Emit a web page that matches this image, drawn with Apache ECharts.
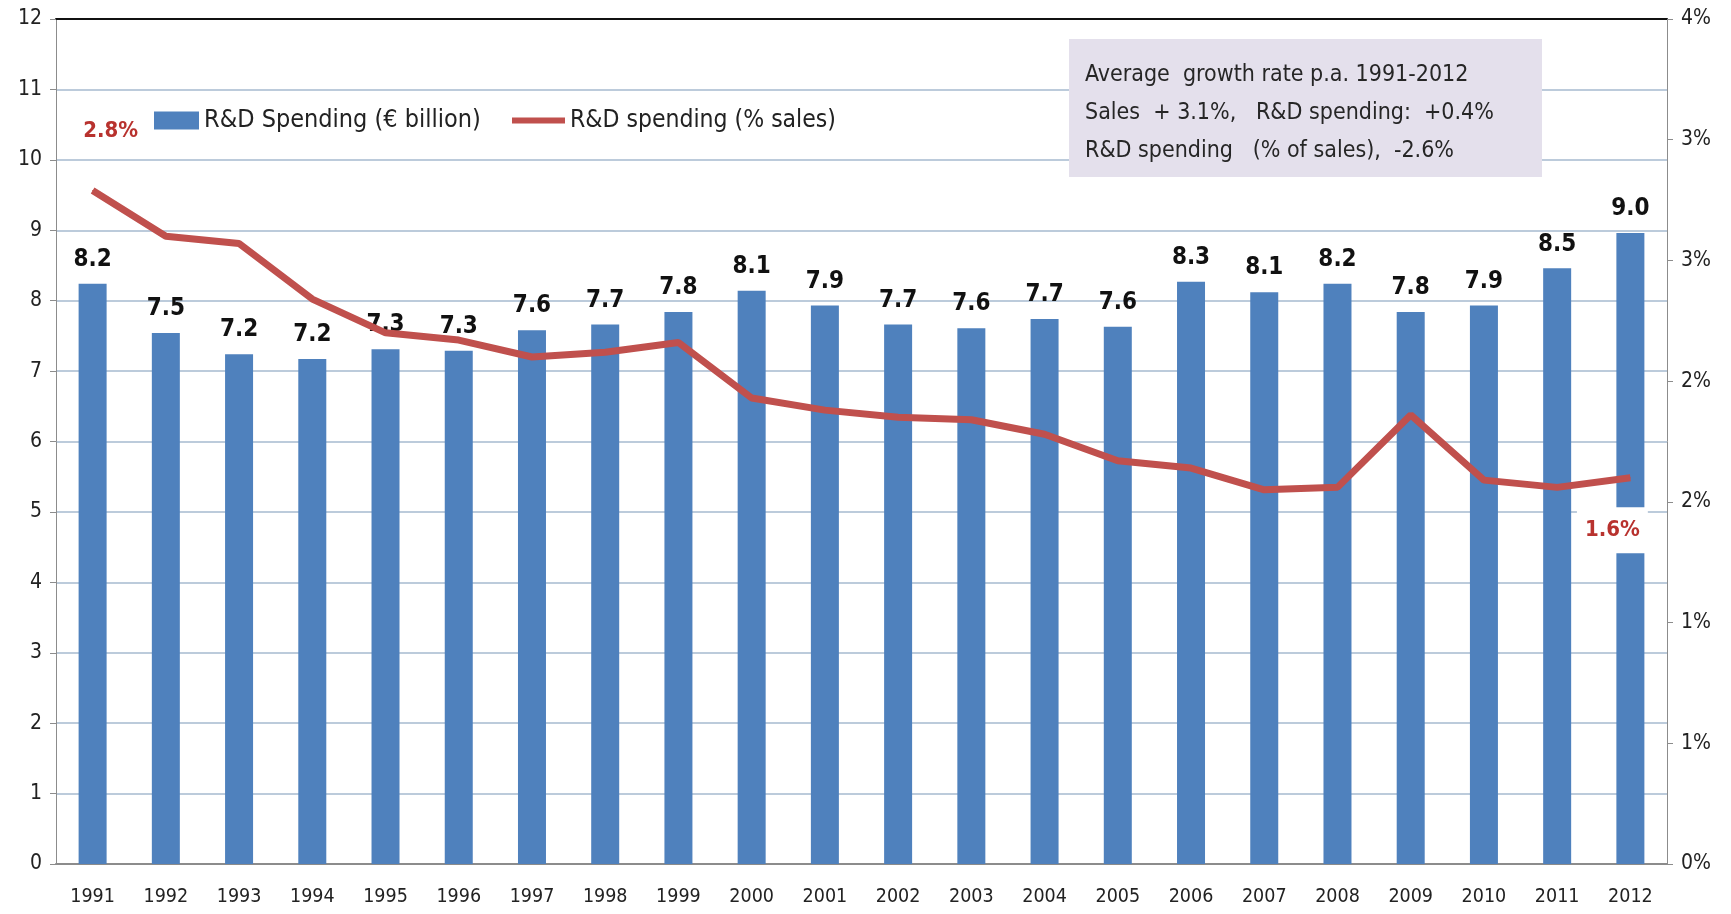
<!DOCTYPE html>
<html>
<head>
<meta charset="utf-8">
<script src="https://cdn.jsdelivr.net/npm/echarts@6/dist/echarts.min.js"></script>
<style>
* { margin: 0; padding: 0; }
body { background: #fff; overflow: hidden; }
#chart { width: 1731px; height: 914px; }
</style>
</head>
<body>
<div id="chart"></div>
<script>
const years = ['1991', '1992', '1993', '1994', '1995', '1996', '1997', '1998', '1999', '2000', '2001',
  '2002', '2003', '2004', '2005', '2006', '2007', '2008', '2009', '2010', '2011', '2012']
// R&D spending, € billion
const spending = [8.24, 7.54, 7.24, 7.17, 7.31, 7.29, 7.58, 7.66, 7.84, 8.14, 7.93,
  7.66, 7.61, 7.74, 7.63, 8.27, 8.12, 8.24, 7.84, 7.93, 8.46, 8.96]
// R&D spending, % of sales
const share = [2.79, 2.60, 2.57, 2.34, 2.20, 2.17, 2.10, 2.12, 2.16, 1.93, 1.88,
  1.85, 1.84, 1.78, 1.67, 1.64, 1.55, 1.56, 1.86, 1.59, 1.56, 1.60]
const noteLines = [
  'Average  growth rate p.a. 1991-2012',
  'Sales  + 3.1%,   R&D spending:  +0.4%',
  'R&D spending   (% of sales),  -2.6%'
]

const font = "'Liberation Sans Narrow', 'DejaVu Sans Condensed', 'Open Sans', sans-serif"
const chart = echarts.init(document.getElementById('chart'))

chart.setOption({
  animation: false,
  textStyle: { fontFamily: font },
  grid: { left: 56, right: 64, top: 19, bottom: 50 },
  legend: [{
    left: 149, top: 103,
    itemWidth: 45, itemHeight: 18,
    textStyle: { fontSize: 25, color: '#222', fontFamily: font },
    data: [{ name: 'R&D Spending (€ billion)', icon: 'rect' }]
  }, {
    left: 507, top: 103,
    itemWidth: 53, itemHeight: 6,
    textStyle: { fontSize: 24.5, color: '#222', fontFamily: font },
    data: [{ name: 'R&D spending (% sales)', icon: 'rect' }]
  }],
  xAxis: [{
    type: 'category',
    data: years,
    axisLine: { lineStyle: { color: '#8c8c8c', width: 2 } },
    axisTick: { show: false },
    axisLabel: { color: '#222', fontSize: 19.5, margin: 23 }
  }, {
    type: 'category',
    position: 'top',
    data: years,
    axisLine: { onZero: false, lineStyle: { color: '#111', width: 2 } },
    axisTick: { show: false },
    axisLabel: { show: false }
  }],
  yAxis: [{
    type: 'value',
    min: 0, max: 12, interval: 1,
    axisLine: { show: true, lineStyle: { color: '#8c8c8c' } },
    axisTick: { show: true, length: 6, lineStyle: { color: '#8c8c8c' } },
    axisLabel: { color: '#222', fontSize: 21, margin: 14 },
    splitLine: { lineStyle: { color: '#bccbdb', width: 2 } }
  }, {
    type: 'value',
    min: 0, max: 3.5, interval: 0.5,
    axisLine: { show: true, lineStyle: { color: '#8c8c8c' } },
    axisTick: { show: true, length: 6, lineStyle: { color: '#8c8c8c' } },
    axisLabel: { color: '#222', fontSize: 21, margin: 14, formatter: v => Math.round(v) + '%' },
    splitLine: { show: false }
  }],
  series: [{
    name: 'R&D Spending (€ billion)',
    type: 'bar',
    data: spending,
    barWidth: 28,
    itemStyle: { color: '#4f81bd' },
    label: {
      show: true,
      position: 'top',
      distance: 12,
      fontSize: 24,
      fontWeight: 'bold',
      color: '#111',
      formatter: p => p.value.toFixed(1)
    },
    z: 2
  }, {
    name: 'R&D spending (% sales)',
    type: 'line',
    yAxisIndex: 1,
    data: share.map((v, i) => {
      if (i === 0) {
        return { value: v, label: { show: true, position: 'top', offset: [18, -43] } }
      }
      if (i === share.length - 1) {
        return {
          value: v,
          label: {
            show: true, position: 'bottom', offset: [-18, 24],
            backgroundColor: '#fff', padding: [12, 8]
          }
        }
      }
      return v
    }),
    symbol: 'circle',
    symbolSize: 1,
    showSymbol: true,
    lineStyle: { color: '#c0504d', width: 7 },
    itemStyle: { color: '#c0504d' },
    label: {
      show: false,
      fontSize: 22,
      fontWeight: 'bold',
      color: '#b8322e',
      formatter: p => p.value.toFixed(1) + '%'
    },
    z: 3
  }],
  graphic: [{
    type: 'rect',
    left: 1069, top: 39,
    shape: { width: 473, height: 138 },
    style: { fill: '#e4e0ec' },
    z: 10
  }, {
    type: 'text',
    left: 1085, top: 56,
    style: {
      text: noteLines.join('\n'),
      font: '23px ' + font,
      lineHeight: 38,
      fill: '#262626'
    },
    z: 11
  }]
})
</script>
</body>
</html>
